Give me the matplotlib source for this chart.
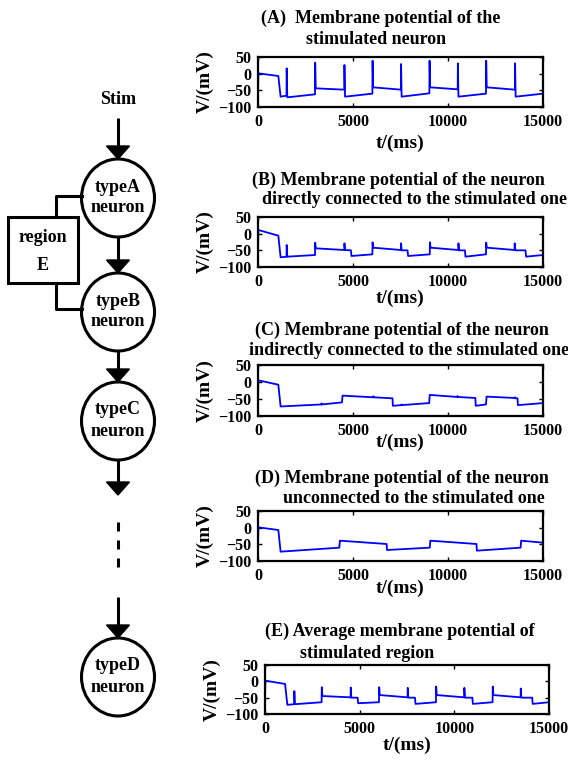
import matplotlib
matplotlib.use("Agg")
import matplotlib.pyplot as plt
from matplotlib.patches import Ellipse, Rectangle, Polygon

# ---------------- data (breakpoints) ----------------
tA = [0, 20, 1070, 1190, 1500, 1510, 1540, 3000, 3010, 3040, 4540, 4550, 4580,
      6020, 6030, 6060, 7520, 7530, 7560, 9020, 9030, 9060, 10510, 10520, 10550,
      12000, 12010, 12040, 13520, 13530, 13560, 15000]
vA = [-60, 1, -7, -69, -66, 16, -71, -62, 33, -44, -48, 26, -69,
      -60, 39, -41, -48, 29, -69, -59, 39, -41, -47, 31, -69,
      -60, 39, -41, -48, 31, -69, -60]

tB = [0, 20, 1070, 1190, 1500, 1510, 1540, 3000, 3010, 3040, 4540, 4550, 4580,
      4890, 4920, 6020, 6030, 6060, 7520, 7530, 7560, 7870, 7900, 9040, 9050,
      9080, 10540, 10550, 10580, 10890, 10920, 12000, 12010, 12040, 13500, 13510,
      13540, 14080, 14110, 15000]
vB = [-60, 11, -6, -71, -69, -34, -69, -64, -27, -44, -49, -29, -49,
      -50, -67, -62, -26, -42, -49, -29, -50, -50, -67, -62, -26,
      -42, -49, -29, -50, -50, -69, -62, -27, -42, -49, -29,
      -50, -50, -69, -64]

tC = [0, 20, 1070, 1190, 3340, 3350, 3360, 4420, 4450, 6060, 6070, 6080, 7080,
      7100, 7550, 7560, 7570, 9010, 9040, 10490, 10500, 10510, 11440, 11460,
      12000, 12030, 13520, 13530, 13540, 13660, 13680, 15000]
vC = [-60, 5, -8, -72, -66, -63, -66, -60, -40, -45, -42, -45, -48,
      -70, -68, -66, -68, -62, -38, -44, -41, -44, -47, -70,
      -66, -43, -47, -45, -48, -48, -68, -62]

tD = [0, 20, 1070, 1190, 4280, 4310, 6770, 6790, 9040, 9070, 11500, 11520,
      13820, 13850, 15000]
vD = [-60, 1, -7, -72, -60, -39, -49, -67, -60, -39, -49, -69,
      -60, -39, -45]

tE = [0, 20, 1060, 1180, 1540, 1550, 1580, 2990, 3000, 3030, 4520, 4530, 4560,
      4890, 4920, 6020, 6030, 6060, 7530, 7540, 7570, 7920, 7950, 9030, 9040,
      9070, 10520, 10530, 10560, 10950, 10980, 12020, 12030, 12060, 13500, 13510,
      13540, 14110, 14140, 15000]
vE = [-55, 2, -8, -72, -70, -30, -70, -64, -18, -45, -49, -19, -50,
      -50, -67, -64, -18, -42, -49, -20, -50, -50, -69, -64, -16,
      -42, -49, -20, -50, -50, -69, -64, -16, -42, -49, -22,
      -50, -50, -69, -64]

xticks = [0, 5000, 10000, 15000]
yticks = [-100, -50, 0, 50]

titles = [
    ["(A)  Membrane potential of the", "stimulated neuron"],
    ["(B) Membrane potential of the neuron", "directly connected to the stimulated one"],
    ["(C) Membrane potential of the neuron", "indirectly connected to the stimulated one"],
    ["(D) Membrane potential of the neuron", "unconnected to the stimulated one"],
    ["(E) Average membrane potential of", "stimulated region"],
]
series = [(tA, vA), (tB, vB), (tC, vC), (tD, vD), (tE, vE)]

# ---------------- layout (pixels) ----------------
W, H = 568, 760
plt.rcParams['font.family'] = ['Liberation Serif', 'DejaVu Serif']
plt.rcParams['font.weight'] = 'bold'
fig = plt.figure(figsize=(W / 100, H / 100), dpi=100)


def rect(l, t, r, b):
    return [l / W, 1 - b / H, (r - l) / W, (b - t) / H]


def fxy(x, y):
    return x / W, 1 - y / H


# overlay for the diagram, pixel coordinates
ov = fig.add_axes([0, 0, 1, 1])
ov.set_xlim(0, W)
ov.set_ylim(H, 0)
ov.axis('off')

boxes = [(258, 57, 543, 107), (258, 217, 543, 267), (258, 365, 543, 416),
         (258, 511, 543, 561), (265, 665, 549, 714)]
title_pos = [((381, 18), (376, 40)), ((398, 180), (415, 200)),
             ((402, 330), (409, 351)), ((402, 478), (414, 498)),
             ((400, 631), (367, 653))]
xlab_pos = [(400, 143), (400, 298), (400, 442), (400, 588), (407, 745)]

for (t, v), bx, ttl, tp, xl in zip(series, boxes, titles, title_pos, xlab_pos):
    ax = fig.add_axes(rect(*bx))
    ax.plot(t, v, color='#0000ff', lw=1.3)
    ax.set_xlim(0, 15000)
    ax.set_ylim(-100, 50)
    ax.set_xticks(xticks)
    ax.set_yticks(yticks)
    ax.tick_params(direction='in', top=True, right=True, length=3, width=1,
                   labelsize=11.5, pad=5)
    for s in ax.spines.values():
        s.set_linewidth(1.6)
    for line, (px, py) in zip(ttl, tp):
        fig.text(*fxy(px, py), line, ha='center', va='center', fontsize=13,
                 fontweight='bold')
    fig.text(*fxy(*xl), "t/(ms)", ha='center', va='center', fontsize=14,
             fontweight='bold')
    fig.text(*fxy(bx[0] - 53, (bx[1] + bx[3]) / 2), "V/(mV)", ha='center',
             va='center', rotation=90, fontsize=14, fontweight='bold')

# ---------------- diagram ----------------
cx = 118
lw = 2.2
fs = 13


def arrow(y0, y1):
    ov.plot([cx, cx], [y0, y1 - 12], color='k', lw=lw, solid_capstyle='butt')
    ov.add_patch(Polygon([[cx - 11.5, y1 - 13], [cx + 11.5, y1 - 13], [cx, y1]],
                         closed=True, color='k'))


def neuron(cy, name):
    ov.add_patch(Ellipse((cx, cy), 73, 78, fill=False, lw=lw, ec='k'))
    ov.text(cx, cy - 11, name, ha='center', va='center', fontsize=fs)
    ov.text(cx, cy + 10, "neuron", ha='center', va='center', fontsize=fs)


ov.text(cx, 100, "Stim", ha='center', va='center', fontsize=fs)
arrow(118, 159)
neuron(198, "typeA")
arrow(237, 273)
neuron(312, "typeB")
arrow(351, 382)
neuron(421, "typeC")
arrow(460, 495)
for y0, y1 in [(522, 531), (540, 549), (558, 567)]:
    ov.plot([cx, cx], [y0, y1], color='k', lw=lw, solid_capstyle='butt')
arrow(597, 638)
neuron(677, "typeD")

ov.add_patch(Rectangle((8, 217), 70, 66, fill=False, lw=lw, ec='k'))
ov.text(43, 238, "region", ha='center', va='center', fontsize=fs)
ov.text(43, 265, "E", ha='center', va='center', fontsize=fs)
ov.plot([56, 56, 82], [217, 196, 196], color='k', lw=lw)
ov.plot([56, 56, 82], [283, 309, 309], color='k', lw=lw)

fig.savefig("out.png", dpi=100)
